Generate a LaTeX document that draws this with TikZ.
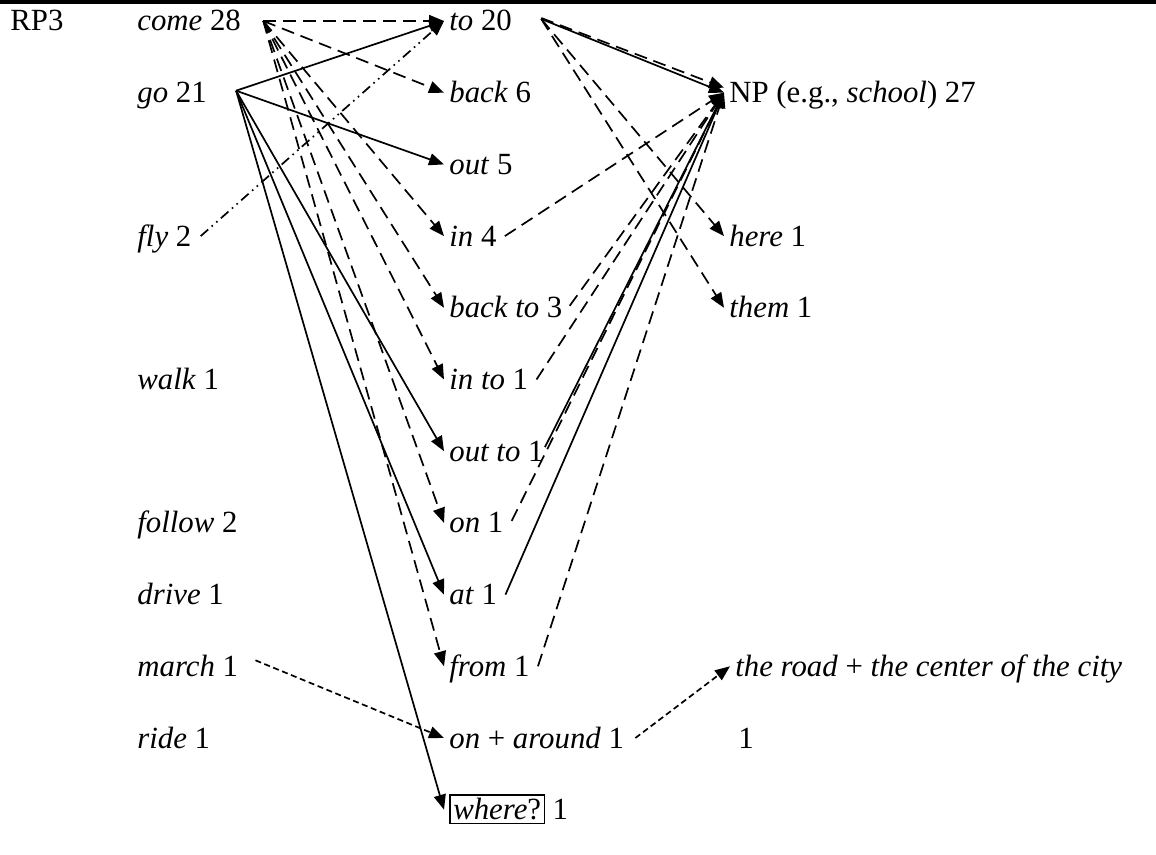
\documentclass[tikz,border=0pt]{standalone}
\usepackage{fontspec}
\setmainfont{Liberation Serif}
\usetikzlibrary{arrows.meta}

\tikzset{
  lbl/.style={anchor=base west, inner xsep=2.5pt, inner ysep=0pt,
              text height=10pt, text depth=0pt,
              font=\fontsize{15.4}{18}\selectfont},
  tip/.style={-{Triangle[length=7.5pt,width=6pt]}},
  conn/.style={line width=0.85pt},
  solidarrow/.style={conn, tip},
  dasharrow/.style={conn, tip, dash pattern=on 6.5pt off 3.5pt},
  finedash/.style={conn, tip, dash pattern=on 3pt off 1.8pt},
  dashdotdot/.style={conn, tip, dash pattern=on 5pt off 2.3pt on 0.8pt off 2.3pt on 0.8pt off 2.3pt},
}

\begin{document}
\begin{tikzpicture}[x=0.5pt, y=-0.5pt]
  \useasboundingbox (0,0) rectangle (1156,855);
  \draw[line width=1.6pt] (0,2) -- (1156,2);

  % heading
  \node[lbl] (rp) at (5,31) {RP3};

  % verbs
  \node[lbl] (come)   at (132,31)    {\textit{come} 28};
  \node[lbl] (go)     at (132,102.7) {\textit{go} 21};
  \node[lbl] (fly)    at (132,246.1) {\textit{fly} 2};
  \node[lbl] (walk)   at (132,389.5) {\textit{walk} 1};
  \node[lbl] (follow) at (132,532.9) {\textit{follow} 2};
  \node[lbl] (drive)  at (132,604.6) {\textit{drive} 1};
  \node[lbl] (march)  at (132,676.3) {\textit{march} 1};
  \node[lbl] (ride)   at (132,748)   {\textit{ride} 1};

  % particles and prepositions
  \node[lbl] (to)     at (444,31)    {\textit{to} 20};
  \node[lbl] (back)   at (444,102.7) {\textit{back} 6};
  \node[lbl] (out)    at (444,174.4) {\textit{out} 5};
  \node[lbl] (in)     at (444,246.1) {\textit{in} 4};
  \node[lbl] (backto) at (444,317.8) {\textit{back to} 3};
  \node[lbl] (into)   at (444,389.5) {\textit{in to} 1};
  \node[lbl] (outto)  at (444,461.2) {\textit{out to} 1};
  \node[lbl] (on)     at (444,532.9) {\textit{on} 1};
  \node[lbl] (at)     at (444,604.6) {\textit{at} 1};
  \node[lbl] (from)   at (444,676.3) {\textit{from} 1};
  \node[lbl] (onar)   at (444,748)   {\textit{on} + \textit{around} 1};
  \node[lbl] (where)  at (444,819.7) {\setlength\fboxsep{1.2pt}\setlength\fboxrule{0.75pt}\fbox{\textit{where}?} 1};

  % goals
  \node[lbl] (np)     at (724,102.7) {NP (e.g., \textit{school}) 27};
  \node[lbl] (here)   at (724,246.1) {\textit{here} 1};
  \node[lbl] (them)   at (724,317.8) {\textit{them} 1};
  \node[lbl] (road)   at (730,676.3) {\textit{the road} + \textit{the center of the city}};
  \node[lbl] (roadn)  at (733,748)   {1};

  % line origins just right of the labels
  \coordinate (comeT)   at ([xshift=8.5pt]come.east);
  \coordinate (goT)     at ([xshift=12pt,yshift=1pt]go.east);
  \coordinate (flyT)    at ([xshift=2pt]fly.east);
  \coordinate (marchT)  at ([xshift=6pt,yshift=3pt]march.east);
  \coordinate (toT)     at ([xshift=12pt,yshift=1pt]to.east);
  \coordinate (inT)     at ([xshift=1.5pt]in.east);
  \coordinate (backtoT) at ([xshift=1pt,yshift=1pt]backto.east);
  \coordinate (intoT)   at ([xshift=1.5pt]into.east);
  \coordinate (outtoT)  at ([xshift=-2pt,yshift=2pt]outto.east);
  \coordinate (onT)     at ([xshift=1.5pt,yshift=1pt]on.east);
  \coordinate (atT)     at ([xshift=1.5pt]at.east);
  \coordinate (fromT)   at ([xshift=1.5pt]from.east);
  \coordinate (onarT)   at ([xshift=3pt]onar.east);

  % come
  \foreach \t in {to, back, in, backto, into, on, from}
    \draw[dasharrow] (comeT) -- (\t.west);

  % go
  \foreach \t in {to, out, outto, at, where}
    \draw[solidarrow] (goT) -- (\t.west);

  % fly
  \draw[dashdotdot] (flyT) -- (to.west);

  % march and the road
  \draw[finedash] (marchT) -- (onar.west);
  \draw[finedash] (onarT) -- (road.west);

  % to
  \draw[solidarrow] (toT) -- (np.west);
  \draw[dasharrow] ([yshift=0.5pt]toT) -- ([yshift=2.5pt]np.west);
  \draw[dasharrow] (toT) -- (here.west);
  \draw[dasharrow] (toT) -- (them.west);

  % into NP
  \foreach \s in {in, backto, into, on, from}
    \draw[dasharrow] (\s T) -- (np.west);
  \foreach \s in {outto, at}
    \draw[solidarrow] (\s T) -- (np.west);
\end{tikzpicture}
\end{document}
